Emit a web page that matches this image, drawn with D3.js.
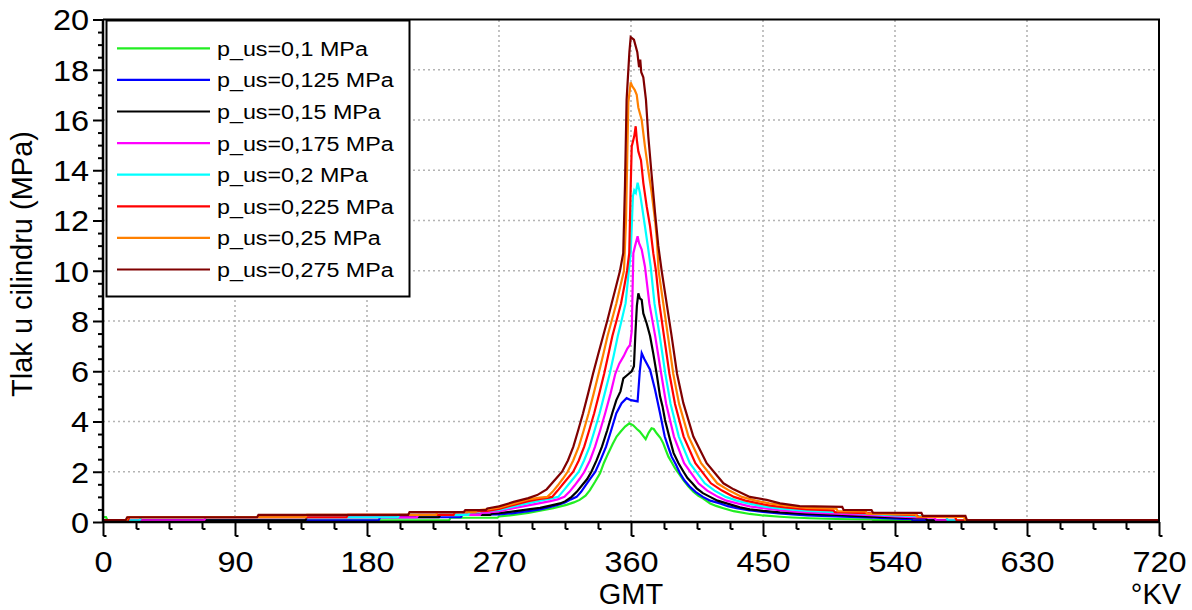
<!DOCTYPE html>
<html><head><meta charset="utf-8">
<script src="https://cdn.jsdelivr.net/npm/d3@7"></script>
<style>
html,body{margin:0;padding:0;background:#fff;}
svg{display:block;font-family:"Liberation Sans",Arial,sans-serif;}
</style></head>
<body><svg id="c" width="1192" height="610"></svg>
<script>
// ---- data (crank angle °KV, cylinder pressure MPa) ----
const seriesNames = ["p_us=0,1 MPa","p_us=0,125 MPa","p_us=0,15 MPa","p_us=0,175 MPa","p_us=0,2 MPa","p_us=0,225 MPa","p_us=0,25 MPa","p_us=0,275 MPa"];
const seriesColors = ["#22ee22","#0000ff","#000000","#ff00ff","#00ffff","#ff0000","#ff8000","#800000"];
const xTicks = [0,90,180,270,360,450,540,630,720];
const yTicks = [0,2,4,6,8,10,12,14,16,18,20];
const xTitle = "GMT", xUnit = "°KV", yTitle = "Tlak u cilindru (MPa)";

const p100 = [[0,0.2],[2,0.2],[3,0.07],[236,0.07],[237,0.17],[269,0.17],[270,0.22],[280,0.28],[290,0.36],[298,0.45],[307,0.55],[316,0.68],[321,0.78],[325,0.88],[329,1.05],[332,1.27],[335.5,1.6],[338.9,1.94],[341.5,2.35],[344.5,2.74],[347.5,3.1],[350.2,3.4],[353,3.6],[356,3.8],[358.9,3.93],[361.5,3.85],[364,3.7],[366,3.6],[368,3.45],[370,3.3],[372,3.55],[374,3.73],[375.5,3.7],[377.5,3.53],[380,3.35],[382,3.13],[383.8,2.85],[385.5,2.6],[388,2.35],[390,2.14],[393,1.9],[395.7,1.67],[399,1.42],[402.5,1.21],[406,1.04],[409,0.94],[414,0.74],[418,0.64],[423,0.55],[430,0.43],[441,0.32],[450,0.26],[461.6,0.21],[470,0.18],[482,0.15],[500,0.12],[524,0.1],[525,0.08],[540,0.08],[541,0.07],[720,0.07]];
const p125 = [[0,0.07],[188,0.07],[189,0.19],[244,0.19],[245,0.28],[270,0.3],[280,0.35],[290,0.43],[298,0.5],[305,0.6],[310,0.68],[315,0.78],[319,0.9],[322.9,1.0],[326,1.2],[329.5,1.5],[332.5,1.75],[335.7,2.0],[339.5,2.5],[343,3.0],[346.5,3.65],[350,4.33],[353.6,4.73],[357,4.93],[360,4.85],[364.5,4.8],[366,6.0],[367.3,6.72],[369,6.5],[373,6.06],[376.4,5.26],[379.8,4.33],[383,3.4],[385.3,3.0],[387.7,2.6],[390.5,2.3],[393.4,1.94],[396.5,1.65],[400,1.41],[404,1.2],[409,1.0],[414,0.85],[420.7,0.74],[426,0.63],[432,0.55],[440,0.47],[450,0.4],[461,0.34],[470,0.3],[480,0.26],[500,0.22],[520,0.18],[530,0.16],[545,0.12],[551,0.12],[552,0.07],[720,0.07]];
const p150 = [[0,0.07],[138,0.07],[139,0.19],[229,0.19],[230,0.28],[264,0.28],[265,0.33],[270,0.35],[280,0.42],[290,0.5],[298,0.56],[305,0.65],[311.6,0.74],[315,0.82],[319.5,1.0],[323,1.2],[326.5,1.45],[330,1.7],[333,2.0],[336.5,2.45],[340.2,3.0],[343.8,3.65],[347.2,4.33],[350,4.85],[352.8,5.2],[354.8,5.72],[357.5,5.85],[360.5,6.0],[362,6.2],[363,7.5],[364,8.6],[365,9.1],[366,8.9],[367.3,8.84],[368.4,8.3],[370.7,7.9],[373,7.4],[375.2,6.7],[377.5,5.9],[379.8,5.0],[381.5,4.6],[383.2,4.06],[386.6,3.27],[389,2.75],[392.4,2.34],[395.8,2.0],[398.5,1.75],[401.8,1.54],[404.8,1.34],[409,1.15],[413.9,1.0],[419,0.85],[425.2,0.74],[434.3,0.58],[441,0.5],[450,0.44],[461.6,0.38],[470,0.35],[480,0.32],[500,0.28],[520,0.22],[540,0.18],[555,0.15],[561,0.15],[562,0.07],[720,0.07]];
const p175 = [[0,0.07],[69,0.07],[70,0.19],[214,0.19],[215,0.28],[257,0.28],[258,0.36],[270,0.42],[280,0.55],[290,0.66],[298,0.75],[305,0.83],[310,0.9],[314.6,1.0],[318,1.2],[321.5,1.45],[325,1.72],[328.2,2.0],[332,2.45],[335.5,3.0],[339,3.65],[342.4,4.33],[346,5.1],[349.3,5.9],[352,6.3],[355,6.6],[357.5,6.9],[359.3,7.05],[360.5,7.6],[361.6,10.7],[362.7,10.97],[364.5,11.37],[365.5,11.1],[367.3,10.84],[369.5,10.17],[372.5,8.7],[376.5,7.4],[380.6,5.9],[384,4.7],[389.3,3.4],[396.2,2.34],[406,1.54],[412,1.25],[419.3,1.0],[425,0.85],[432.5,0.74],[441,0.62],[450,0.55],[461,0.47],[470,0.42],[480,0.38],[500,0.33],[520,0.28],[540,0.22],[555,0.18],[567,0.17],[568,0.07],[720,0.07]];
const p200 = [[0,0.07],[25,0.07],[26,0.19],[201,0.19],[202,0.28],[249,0.28],[250,0.39],[270,0.48],[280,0.62],[290,0.75],[298,0.85],[305,0.93],[310.4,1.0],[314,1.25],[317.5,1.5],[321,1.75],[324.4,2.0],[328,2.45],[331.8,3.0],[335.2,3.65],[338.6,4.33],[342,5.1],[345.5,5.9],[348.3,6.65],[351,7.4],[353.7,8.05],[356.3,8.7],[357.5,9.4],[358.5,10.0],[359.8,10.7],[361.3,12.96],[362.2,13.2],[363.3,13.1],[364.5,13.5],[366.1,13.1],[367.5,12.56],[369.5,11.77],[371.5,10.97],[373.4,10.17],[376,8.7],[379.6,7.4],[383.4,5.9],[387,4.7],[392.6,3.4],[400.1,2.34],[410.3,1.54],[417,1.25],[424.7,1.0],[432,0.85],[439.8,0.74],[450,0.62],[461,0.54],[470,0.49],[480,0.44],[500,0.39],[520,0.33],[540,0.26],[560,0.22],[575,0.2],[576,0.07],[720,0.07]];
const p225 = [[0,0.07],[17,0.07],[18,0.19],[166,0.19],[167,0.28],[239,0.28],[240,0.39],[262,0.44],[270,0.52],[280,0.68],[290,0.83],[298,0.92],[303,0.96],[306.2,1.0],[310,1.25],[313.5,1.5],[317,1.75],[320.6,2.0],[324.4,2.45],[328.1,3.0],[331.5,3.65],[334.9,4.33],[338.3,5.1],[341.7,5.9],[344.5,6.65],[347.3,7.4],[350.3,8.05],[353.2,8.7],[355.5,9.4],[357.3,10.0],[358.8,10.7],[359.8,13.36],[360.5,14.95],[362.2,15.35],[363.2,15.75],[364,15.2],[365,14.75],[366.8,14.4],[368.4,13.5],[370.7,12.56],[373,11.77],[375.2,10.7],[377,10.0],[379.3,8.7],[382.5,7.4],[386.2,5.9],[390,4.7],[395.9,3.4],[403.9,2.34],[414.5,1.54],[422,1.25],[430.2,1.0],[438,0.85],[447,0.74],[455,0.65],[465,0.58],[480,0.5],[498,0.46],[499,0.39],[520,0.35],[540,0.3],[555,0.27],[556,0.2],[581,0.19],[582,0.07],[720,0.07]];
const p250 = [[0,0.07],[16,0.07],[17,0.19],[138,0.19],[139,0.28],[227,0.28],[228,0.39],[254,0.39],[255,0.47],[262,0.5],[270,0.57],[280,0.73],[290,0.9],[298,0.97],[303,1.0],[306.5,1.2],[310,1.45],[313.5,1.72],[316.8,2.0],[320.6,2.45],[324.4,3.0],[327.8,3.65],[331.1,4.33],[334.5,5.1],[337.9,5.9],[341,6.65],[344,7.4],[347,8.05],[350,8.7],[352.8,9.4],[355.2,10.0],[356.6,12.0],[357.5,14.7],[358.2,16.7],[359.8,17.5],[360.8,17.35],[362.5,17.2],[363.9,17.0],[365,16.5],[367.3,16.0],[369.5,14.95],[371.8,14.0],[374.1,13.1],[376.4,12.0],[377.7,11.2],[378.8,10.0],[382,8.7],[385.2,7.4],[388.8,5.9],[392.8,4.7],[399.2,3.4],[407.8,2.34],[418.8,1.54],[427,1.25],[435.6,1.0],[445,0.85],[454.3,0.74],[465,0.65],[480,0.56],[500,0.53],[501,0.43],[520,0.42],[521,0.33],[554,0.3],[555,0.21],[587,0.2],[588,0.07],[720,0.07]];
const p275 = [[0,0.08],[15.5,0.08],[16.5,0.19],[105,0.19],[106,0.28],[208,0.28],[209,0.39],[246,0.39],[247,0.47],[261,0.47],[262,0.54],[270,0.62],[280,0.8],[290,0.95],[296,1.07],[302.5,1.3],[307,1.6],[310,1.8],[313,2.0],[317,2.45],[320.7,3.0],[324,3.65],[327.3,4.33],[330.7,5.1],[334.1,5.9],[337.5,6.65],[341,7.4],[344,8.05],[346.8,8.7],[349.7,9.35],[352.5,10.0],[354.7,10.7],[355.9,13.4],[357,16.8],[358.9,18.7],[359.8,19.3],[362,19.2],[364.3,18.7],[365.5,18.1],[366.3,18.4],[367,17.9],[368.4,17.7],[370.2,16.8],[371.8,15.35],[374.1,13.8],[376.4,12.3],[378.6,11.0],[380.9,10.0],[384.3,8.7],[387.7,7.4],[391.4,5.9],[395.7,4.73],[402.5,3.4],[411.6,2.34],[423,1.54],[430,1.3],[441,1.0],[452.5,0.88],[461.6,0.74],[475,0.63],[504,0.6],[505,0.48],[524,0.47],[525,0.37],[558,0.36],[559,0.24],[588,0.24],[589,0.08],[720,0.08]];
const seriesData = [p100,p125,p150,p175,p200,p225,p250,p275];

// ---- drawing ----
const svg = d3.select("#c");
svg.append("rect").attr("width",1192).attr("height",610).attr("fill","#fff");
const x = d3.scaleLinear().domain([0,720]).range([103,1159]);
const y = d3.scaleLinear().domain([0,20]).range([522,19.5]);
const font = '"Liberation Sans",Arial,sans-serif';
const sx = 1.12; // horizontal stretch of the original's lettering

// grid
const grid = svg.append("g").attr("stroke","#b4b4b4").attr("stroke-width",1.6).attr("stroke-dasharray","2,3");
grid.selectAll("line.v").data(xTicks.slice(1,-1)).join("line")
  .attr("x1",d=>x(d)).attr("x2",d=>x(d)).attr("y1",y(0)).attr("y2",y(20));
grid.selectAll("line.h").data(yTicks.slice(1,-1)).join("line")
  .attr("x1",x(0)).attr("x2",x(720)).attr("y1",d=>y(d)).attr("y2",d=>y(d));

// series
const line = d3.line().x(d=>x(d[0])).y(d=>y(d[1]));
svg.append("g").selectAll("path").data(seriesData).join("path")
  .attr("d",line).attr("fill","none")
  .attr("stroke",(d,i)=>seriesColors[i]).attr("stroke-width",2.2).attr("stroke-linejoin","miter");

// frame
svg.append("path").attr("d",`M${x(0)},${y(20)}H${x(720)}V${y(0)}`).attr("fill","none").attr("stroke","#000").attr("stroke-width",2);

// minor ticks
const yMinor = d3.range(0,20.001,0.5).filter(v=>v%2!==0);
const xMinor = d3.range(0,720.001,22.5).filter(v=>v%90!==0);
const gyMinor = svg.append("g").attr("transform",`translate(${x(0)},0)`)
  .call(d3.axisLeft(y).tickValues(yMinor).tickSize(5).tickFormat(""));
gyMinor.select(".domain").remove();
gyMinor.selectAll("line").attr("stroke-width",2);
const gxMinor = svg.append("g").attr("transform",`translate(0,${y(0)})`)
  .call(d3.axisBottom(x).tickValues(xMinor).tickSize(7).tickFormat(""));
gxMinor.select(".domain").remove();
gxMinor.selectAll(".tick line").attr("stroke-width",2);
gxMinor.selectAll(".tick").append("path").attr("d","M0,7h3").attr("stroke","#000").attr("stroke-width",2);

// major axes
const gy = svg.append("g").attr("transform",`translate(${x(0)},0)`)
  .call(d3.axisLeft(y).tickValues(yTicks).tickSize(10).tickFormat(d3.format("d")));
gy.select(".domain").attr("stroke-width",2.5).attr("d",`M0,${y(0)}V${y(20)}`);
gy.selectAll(".tick line").attr("stroke-width",2);
gy.selectAll(".tick text").attr("font-family",font).attr("font-size",29).attr("fill","#000")
  .attr("x",0).attr("dy",0).attr("text-anchor","end").attr("transform",`translate(-14,10.4) scale(${sx},1)`);

const gx = svg.append("g").attr("transform",`translate(0,${y(0)})`)
  .call(d3.axisBottom(x).tickValues(xTicks).tickSize(14).tickFormat(d3.format("d")));
gx.select(".domain").attr("stroke-width",2.5).attr("d",`M${x(0)},0H${x(720)}`);
gx.selectAll(".tick line").attr("stroke-width",2);
gx.selectAll(".tick").append("path").attr("d","M0,14h3").attr("stroke","#000").attr("stroke-width",2);
gx.selectAll(".tick text").attr("font-family",font).attr("font-size",29).attr("fill","#000")
  .attr("y",0).attr("dy",0).attr("transform",`translate(0,49.5) scale(${sx},1)`);

// axis titles
svg.append("text").attr("x",x(360)).attr("y",603.5).attr("text-anchor","middle")
  .attr("font-family",font).attr("font-size",29).text(xTitle);
svg.append("text").attr("x",1156).attr("y",603.5).attr("text-anchor","middle")
  .attr("font-family",font).attr("font-size",29).text(xUnit);
svg.append("text").attr("transform","translate(32,264) rotate(-90)").attr("text-anchor","middle")
  .attr("font-family",font).attr("font-size",29).text(yTitle);

// legend
const lg = svg.append("g");
lg.append("rect").attr("x",106.5).attr("y",20.5).attr("width",303).attr("height",276)
  .attr("fill","#fff").attr("stroke","#000").attr("stroke-width",2);
const rows = lg.selectAll("g.row").data(seriesNames).join("g").attr("class","row")
  .attr("transform",(d,i)=>`translate(0,${48.3+i*31.6})`);
rows.append("line").attr("x1",117).attr("x2",210).attr("y1",0).attr("y2",0)
  .attr("stroke",(d,i)=>seriesColors[i]).attr("stroke-width",2.2);
rows.append("text").attr("transform",`translate(217,7.5) scale(${sx},1)`)
  .attr("font-family",font).attr("font-size",20.8).text(d=>d);
</script></body></html>
